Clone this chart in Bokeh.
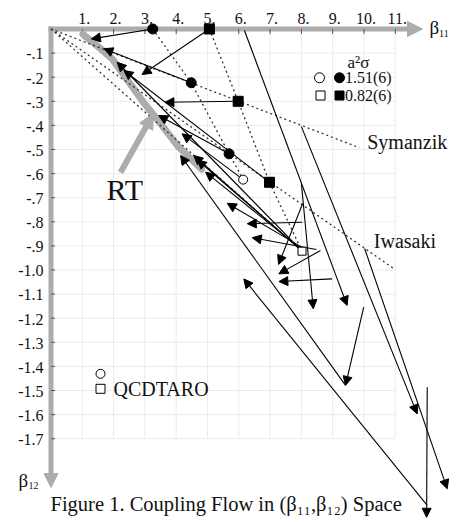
from bokeh.plotting import figure
from bokeh.models import Range1d, ColumnDataSource, Arrow, NormalHead
from bokeh.core.properties import value
from bokeh.embed import file_html
from bokeh.resources import INLINE

# ---------------- data ----------------
x_ticks = [1, 2, 3, 4, 5, 6, 7, 8, 9, 10, 11]
x_tick_labels = ["1.", "2.", "3.", "4.", "5.", "6.", "7.", "8.", "9.", "10.", "11."]
y_ticks = [-0.1, -0.2, -0.3, -0.4, -0.5, -0.6, -0.7, -0.8, -0.9,
           -1.0, -1.1, -1.2, -1.3, -1.4, -1.5, -1.6, -1.7]
y_tick_labels = ["-.1", "-.2", "-.3", "-.4", "-.5", "-.6", "-.7", "-.8", "-.9",
                 "-1.0", "-1.1", "-1.2", "-1.3", "-1.4", "-1.5", "-1.6", "-1.7"]

# renormalized trajectory (RT)
rt_b11 = [1.02, 1.53, 1.955, 2.38, 2.91, 3.34, 4.08, 4.81]
rt_b12 = [-0.022, -0.0755, -0.124, -0.200, -0.297, -0.366, -0.490, -0.581]

# action lines through the origin (beta12 = slope * beta11)
action_names = ["Symanzik", "Iwasaki", "DBW2"]
action_slope = [-0.05, -0.0908, -0.1148]
action_end_b11 = [9.85, 10.95, 8.02]

# constant a^2 sigma lines
circle_line_b11 = [3.25, 4.48, 5.69, 6.14]
circle_line_b12 = [0.0, -0.223, -0.518, -0.625]
square_line_b11 = [5.06, 5.98, 6.98, 8.02]
square_line_b12 = [0.0, -0.300, -0.636, -0.922]

# simulation points
filled_circle_b11 = [3.25, 4.48, 5.69]
filled_circle_b12 = [0.0, -0.223, -0.518]
filled_square_b11 = [5.06, 5.98, 6.98]
filled_square_b12 = [0.0, -0.300, -0.636]
open_circle_b11 = [6.14]
open_circle_b12 = [-0.625]
open_square_b11 = [8.02]
open_square_b12 = [-0.922]

# coupling flow arrows (start -> end)
flow_b11_start = [3.25, 5.06, 4.48, 5.98, 5.69, 6.14, 6.98, 8.02,
                  8.07, 8.16, 7.97,
                  7.97, 8.03, 8.48, 8.04, 8.61, 8.98, 8.00,
                  6.18, 8.00, 10.02, 12.02, 12.02, 9.41, 9.99]
flow_b12_start = [0.0, 0.0, -0.223, -0.300, -0.518, -0.625, -0.636, -0.922,
                  -0.928, -0.936, -0.911,
                  -0.902, -0.802, -0.915, -0.724, -0.919, -1.037, -0.641,
                  -0.006, -0.405, -0.911, -1.486, -1.977, -1.479, -1.154]
flow_b11_end = [1.29, 2.91, 1.69, 3.64, 3.44, 4.19, 2.33, 2.115,
                4.56, 4.67, 4.94,
                5.63, 6.27, 6.43, 7.27, 7.28, 7.28, 8.38,
                9.46, 11.70, 12.66, 12.00, 6.16, 4.14, 9.41]
flow_b12_end = [-0.041, -0.189, -0.082, -0.304, -0.359, -0.435, -0.172, -0.138,
                -0.525, -0.543, -0.594,
                -0.723, -0.808, -0.866, -0.977, -1.016, -1.048, -1.161,
                -1.147, -1.597, -1.908, -2.026, -1.037, -0.525, -1.479]

legend_labels = ["1.51(6)", "0.82(6)"]

# ---------------- figure ----------------
W, H = 459, 522
X0, Y0 = 50.5, 28.5   # pixel position of the origin
SX = 31.3             # px per unit beta11
SY = 241.0            # px per unit beta12
BASE_SHIFT = 0.32     # em correction of the rendered text baseline


def px(X):
    return (X - X0) / SX


def py(Y):
    return (Y0 - Y) / SY


def tb(Y, fs):
    """data y for a text whose baseline should appear at pixel row Y"""
    return py(Y - BASE_SHIFT * fs)


p = figure(width=W, height=H,
           x_range=Range1d(px(0), px(W)),
           y_range=Range1d(py(H), py(0)),
           x_axis_location=None, y_axis_location=None,
           toolbar_location=None, output_backend="svg", min_border=0,
           title=None, outline_line_color=None,
           background_fill_color="white", border_fill_color="white")
p.grid.visible = False

FONT = value("Liberation Serif")
GRAY = "#acacac"
INK = "#111111"

# grid
xmax = max(x_ticks)
ymin = min(y_ticks)
p.segment(x0=x_ticks, y0=[0] * len(x_ticks), x1=x_ticks, y1=[ymin] * len(x_ticks),
          line_color="#ebebeb", line_width=1, level="underlay")
p.segment(x0=[0] * len(y_ticks), y0=y_ticks, x1=[xmax] * len(y_ticks), y1=y_ticks,
          line_color="#ebebeb", line_width=1, level="underlay")

# gray axes with arrow heads
p.add_layout(Arrow(x_start=-2.5 / SX, y_start=0, x_end=px(422), y_end=0,
                   line_color=GRAY, line_width=5, level="underlay",
                   end=NormalHead(size=15, fill_color=GRAY, line_color=GRAY)))
p.add_layout(Arrow(x_start=0, y_start=2.5 / SY, x_end=0, y_end=py(487),
                   line_color=GRAY, line_width=5, level="underlay",
                   end=NormalHead(size=14, fill_color=GRAY, line_color=GRAY)))

# tick marks
p.segment(x0=x_ticks, y0=[0] * len(x_ticks), x1=x_ticks, y1=[-5 / SY] * len(x_ticks),
          line_color="#555555", line_width=1)
p.segment(x0=[0] * len(y_ticks), y0=y_ticks, x1=[4 / SX] * len(y_ticks), y1=y_ticks,
          line_color="#555555", line_width=1)

# tick labels
FS_TICK = 16
p.text(x=[t + 2 / SX for t in x_ticks], y=[tb(23, FS_TICK)] * len(x_ticks), text=x_tick_labels,
       text_font=FONT, text_font_size=value(f"{FS_TICK}px"), text_color=INK,
       text_align="center", text_baseline="alphabetic")
p.text(x=[px(43)] * len(y_ticks),
       y=[t - (6 - BASE_SHIFT * FS_TICK) / SY for t in y_ticks], text=y_tick_labels,
       text_font=FONT, text_font_size=value(f"{FS_TICK}px"), text_color=INK,
       text_align="right", text_baseline="alphabetic")

# axis titles
p.text(x=[px(429)], y=[tb(33, 19)], text=["β"], text_font=FONT,
       text_font_size=value("19px"), text_color=INK, text_baseline="alphabetic")
p.text(x=[px(438.5)], y=[tb(36, 10)], text=["11"], text_font=FONT,
       text_font_size=value("10px"), text_color=INK, text_baseline="alphabetic")
p.text(x=[px(18)], y=[tb(486, 19)], text=["β"], text_font=FONT,
       text_font_size=value("19px"), text_color=INK, text_baseline="alphabetic")
p.text(x=[px(28)], y=[tb(488, 10)], text=["12"], text_font=FONT,
       text_font_size=value("10px"), text_color=INK, text_baseline="alphabetic")

# RT curve
p.line(rt_b11, rt_b12, line_color=GRAY, line_width=7, line_cap="round")

# action lines (dotted)
p.segment(x0=[0] * len(action_slope), y0=[0] * len(action_slope),
          x1=action_end_b11, y1=[s * e for s, e in zip(action_slope, action_end_b11)],
          line_color="#333333", line_width=1.3, line_dash="2 3")
p.line(circle_line_b11, circle_line_b12, line_color="#333333", line_width=1.3, line_dash="2 3")
p.line(square_line_b11, square_line_b12, line_color="#333333", line_width=1.3, line_dash="2 3")

# RT pointer arrow
p.add_layout(Arrow(x_start=px(120), y_start=py(172), x_end=px(153), y_end=py(113),
                   line_color=GRAY, line_width=6,
                   end=NormalHead(size=15, fill_color=GRAY, line_color=GRAY)))

# flow arrows
flow_src = ColumnDataSource(dict(x0=flow_b11_start, y0=flow_b12_start,
                                 x1=flow_b11_end, y1=flow_b12_end))
p.add_layout(Arrow(x_start="x0", y_start="y0", x_end="x1", y_end="y1", source=flow_src,
                   line_color="black", line_width=1.1,
                   end=NormalHead(size=9, fill_color="black", line_color="black", line_width=1)))

# points
p.scatter(filled_circle_b11, filled_circle_b12, marker="circle", size=10,
          fill_color="black", line_color="black", level="overlay")
p.scatter(filled_square_b11, filled_square_b12, marker="square", size=10,
          fill_color="black", line_color="black", level="overlay")
p.scatter(open_circle_b11, open_circle_b12, marker="circle", size=9,
          fill_color="white", line_color="black", line_width=1, level="overlay")
p.scatter(open_square_b11, open_square_b12, marker="square", size=8,
          fill_color="white", line_color="black", line_width=1, level="overlay")

# action labels
p.text(x=[px(366.7), px(373.3)], y=[tb(148.3, 20), tb(246.7, 20)], text=action_names[:2],
       text_font=FONT, text_font_size=value("20px"), text_color=INK,
       text_baseline="alphabetic")
p.text(x=[px(106)], y=[tb(198.3, 30)], text=["RT"], text_font=FONT,
       text_font_size=value("30px"), text_color=INK, text_baseline="alphabetic")

# legend (top right)
p.text(x=[px(347)], y=[tb(67, 17)], text=["a²σ"], text_font=FONT,
       text_font_size=value("17px"), text_color=INK, text_baseline="alphabetic")
p.scatter([px(319)], [py(77.3)], marker="circle", size=10,
          fill_color="white", line_color="black", level="overlay")
p.scatter([px(339)], [py(77.3)], marker="circle", size=10,
          fill_color="black", line_color="black", level="overlay")
p.scatter([px(320)], [py(95)], marker="square", size=9,
          fill_color="white", line_color="black", level="overlay")
p.scatter([px(339)], [py(95)], marker="square", size=9,
          fill_color="black", line_color="black", level="overlay")
p.text(x=[px(344.5)] * 2, y=[tb(82.5, 16), tb(100, 16)], text=legend_labels,
       text_font=FONT, text_font_size=value("16px"), text_color=INK,
       text_baseline="alphabetic")

# QCDTARO legend (bottom left)
p.scatter([px(100)], [py(373.3)], marker="circle", size=9,
          fill_color="white", line_color="black", level="overlay")
p.scatter([px(100)], [py(388.3)], marker="square", size=9,
          fill_color="white", line_color="black", level="overlay")
p.text(x=[px(113)], y=[tb(394.5, 20)], text=["QCDTARO"], text_font=FONT,
       text_font_size=value("20px"), text_color=INK, text_baseline="alphabetic")

# caption
p.text(x=[px(50)], y=[tb(510, 20.5)],
       text=["Figure 1. Coupling Flow in (β₁₁,β₁₂) Space"], text_font=FONT,
       text_font_size=value("20.5px"), text_color=INK, text_baseline="alphabetic")

open("out.html", "w").write(file_html(p, INLINE))
